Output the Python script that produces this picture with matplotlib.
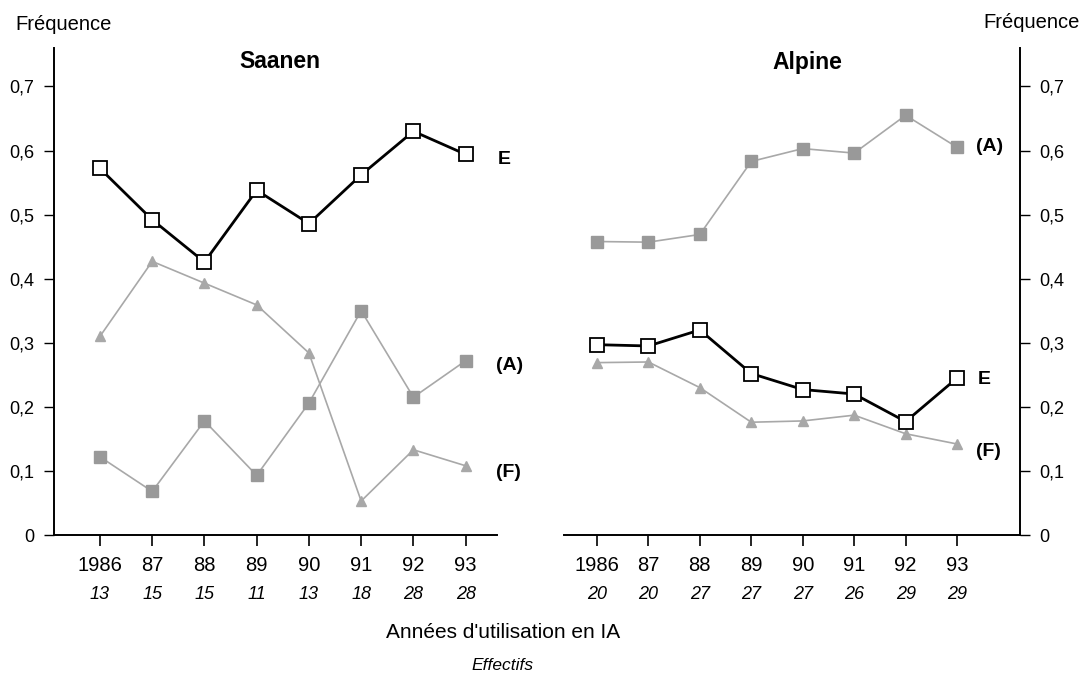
import matplotlib.pyplot as plt
from matplotlib.ticker import FixedLocator, FixedFormatter

plt.rcParams['font.family'] = ['Liberation Sans', 'DejaVu Sans']

# ── Data ──────────────────────────────────────────────────
years = [1986, 1987, 1988, 1989, 1990, 1991, 1992, 1993]
year_labels = ['1986', '87', '88', '89', '90', '91', '92', '93']
saanen_n = [13, 15, 15, 11, 13, 18, 28, 28]
alpine_n = [20, 20, 27, 27, 27, 26, 29, 29]

saanen_E = [0.572, 0.492, 0.426, 0.538, 0.486, 0.562, 0.630, 0.594]
saanen_A = [0.122, 0.068, 0.178, 0.093, 0.206, 0.350, 0.215, 0.272]
saanen_F = [0.310, 0.427, 0.393, 0.359, 0.284, 0.053, 0.133, 0.108]

alpine_E = [0.297, 0.295, 0.320, 0.252, 0.227, 0.220, 0.177, 0.245]
alpine_A = [0.458, 0.457, 0.469, 0.583, 0.603, 0.596, 0.655, 0.605]
alpine_F = [0.269, 0.270, 0.230, 0.176, 0.178, 0.187, 0.158, 0.142]

yticks = [0, 0.1, 0.2, 0.3, 0.4, 0.5, 0.6, 0.7]
ytick_labels = ['0', '0,1', '0,2', '0,3', '0,4', '0,5', '0,6', '0,7']

GREY = '#a8a8a8'

fig = plt.figure(figsize=(10.83, 6.73), dpi=100)
W, H = 1083, 673
ax1 = fig.add_axes([54 / W, 1 - 535 / H, (497 - 54) / W, (535 - 48) / H])
ax2 = fig.add_axes([564 / W, 1 - 535 / H, (1020 - 564) / W, (535 - 48) / H])


def draw(ax, E, A, F, counts, side, xlim):
    ax.plot(years, A, color=GREY, lw=1.2, marker='s', ms=8, mfc='#999999', mec='#999999', zorder=2)
    ax.plot(years, F, color=GREY, lw=1.2, marker='^', ms=6.5, mfc=GREY, mec=GREY, zorder=2)
    ax.plot(years, E, color='black', lw=2, marker='s', ms=10, mfc='white', mec='black',
            mew=1.3, zorder=3)
    ax.set_xlim(*xlim)
    ax.set_ylim(0, 0.76)
    ax.xaxis.set_major_locator(FixedLocator(years))
    ax.xaxis.set_major_formatter(FixedFormatter(year_labels))
    ax.yaxis.set_major_locator(FixedLocator(yticks))
    ax.yaxis.set_major_formatter(FixedFormatter(ytick_labels))
    ax.tick_params(axis='x', direction='out', length=8, width=1.2, pad=7, labelsize=14.5)
    ax.tick_params(axis='y', direction='out', length=7, width=1, pad=7, labelsize=13)
    ax.spines['top'].set_visible(False)
    ax.spines['bottom'].set_linewidth(1.4)
    if side == 'left':
        ax.spines['right'].set_visible(False)
        ax.spines['left'].set_linewidth(1.4)
    else:
        ax.spines['left'].set_visible(False)
        ax.spines['right'].set_linewidth(1.4)
        ax.yaxis.tick_right()
    tr = ax.get_xaxis_transform()
    for x, n in zip(years, counts):
        ax.text(x, -0.122, str(n), transform=tr, ha='center', va='center',
                fontsize=13, style='italic')
    ax.patch.set_visible(False)


draw(ax1, saanen_E, saanen_A, saanen_F, saanen_n, 'left', (1985.12, 1993.6))
draw(ax2, alpine_E, alpine_A, alpine_F, alpine_n, 'right', (1985.36, 1993.95 + 14 / 51.4))

fig.text(280 / W, 1 - 62 / H, 'Saanen', fontsize=16.5, fontweight='bold', ha='center', va='center')
fig.text(807 / W, 1 - 62 / H, 'Alpine', fontsize=16.5, fontweight='bold', ha='center', va='center')

# series labels
lab = dict(fontsize=14, fontweight='bold', va='center')
ax1.text(years[-1] + 0.62, saanen_E[-1] - 0.008, 'E', **lab)
ax1.text(years[-1] + 0.58, saanen_A[-1] - 0.008, '(A)', **lab)
ax1.text(years[-1] + 0.58, saanen_F[-1] - 0.010, '(F)', **lab)
ax2.text(years[-1] + 0.36, alpine_A[-1] + 0.002, '(A)', **lab)
ax2.text(years[-1] + 0.40, alpine_E[-1] - 0.003, 'E', **lab)
ax2.text(years[-1] + 0.36, alpine_F[-1] - 0.011, '(F)', **lab)

fig.text(15 / W, 1 - 24 / H, 'Fréquence', fontsize=14.5, ha='left', va='center')
fig.text(1080 / W, 1 - 22 / H, 'Fréquence', fontsize=14.5, ha='right', va='center')
fig.text(503 / W, 1 - 632 / H, "Années d'utilisation en IA", fontsize=15, ha='center', va='center')
fig.text(503 / W, 1 - 665 / H, 'Effectifs', fontsize=12.5, style='italic', ha='center', va='center')

fig.savefig('out.png', dpi=100)
